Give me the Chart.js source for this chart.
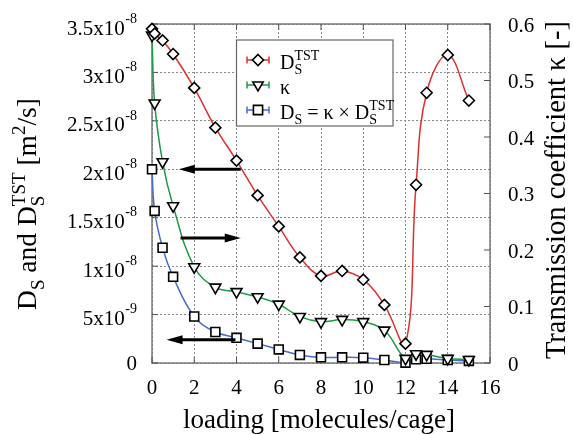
<!DOCTYPE html>
<html><head><meta charset="utf-8">
<script src="https://cdn.jsdelivr.net/npm/chart.js@4.4.0/dist/chart.umd.min.js"></script>
<style>html,body{margin:0;padding:0;background:#fff;}#wrap{width:573px;height:435px;position:relative;}</style>
</head><body><div id="wrap"><canvas id="c" width="573" height="435"></canvas></div>
<script>
// ---- data ----
const loading = [0, 0.125, 0.5, 1, 2, 3, 4, 5, 6, 7, 8, 9, 10, 11, 12, 12.5, 13, 14, 15];
const dsTST = [3.45e-8, 3.40e-8, 3.33e-8, 3.19e-8, 2.84e-8, 2.43e-8, 2.09e-8, 1.73e-8, 1.41e-8, 1.09e-8, 0.90e-8, 0.95e-8, 0.86e-8, 0.60e-8, 0.20e-8, 1.84e-8, 2.79e-8, 3.18e-8, 2.71e-8];
const kappa = [0.58, 0.46, 0.356, 0.278, 0.170, 0.134, 0.126, 0.117, 0.104, 0.082, 0.073, 0.077, 0.073, 0.058, 0.008, 0.016, 0.015, 0.008, 0.006];
const ds = [2.0e-8, 1.57e-8, 1.19e-8, 0.89e-8, 0.48e-8, 0.32e-8, 0.26e-8, 0.20e-8, 0.14e-8, 0.083e-8, 0.059e-8, 0.059e-8, 0.055e-8, 0.031e-8, 0.003e-8, 0.038e-8, 0.044e-8, 0.031e-8, 0.021e-8];
const xTicks = [0, 2, 4, 6, 8, 10, 12, 14, 16];
const yLeftTicks = [0, 5e-9, 1e-8, 1.5e-8, 2e-8, 2.5e-8, 3e-8, 3.5e-8];
const yLeftMant = ['0', '5x10', '1x10', '1.5x10', '2x10', '2.5x10', '3x10', '3.5x10'];
const yLeftExp = ['', '-9', '-8', '-8', '-8', '-8', '-8', '-8'];
const yRightTicks = [0, 0.1, 0.2, 0.3, 0.4, 0.5, 0.6];
const yRightLabels = ['0', '0.1', '0.2', '0.3', '0.4', '0.5', '0.6'];
// arrows: [xFrom, xTo, yLeftValue]
const arrowFrom = [4.2, 1.35, 3.95];
const arrowTo = [1.27, 4.2, 0.69];
const arrowY = [2.0e-8, 1.29e-8, 0.24e-8];

const RED = '#dd3131', GREEN = '#1f9a48', BLUE = '#4a6ccf';
const SERIF = '"Liberation Serif", "DejaVu Serif", serif';

function pts(ys) { return loading.map((x, i) => ({x: x, y: ys[i]})); }

function drawMarker(ctx, style, x, y, r) {
  ctx.save();
  ctx.beginPath();
  if (style === 'diamond') {
    ctx.moveTo(x, y - r); ctx.lineTo(x + r, y); ctx.lineTo(x, y + r); ctx.lineTo(x - r, y); ctx.closePath();
  } else if (style === 'tri') {
    const w = r * 0.866;
    ctx.moveTo(x - w, y - r / 2); ctx.lineTo(x + w, y - r / 2); ctx.lineTo(x, y + r); ctx.closePath();
  } else {
    const s = r * 0.707;
    ctx.rect(x - s, y - s, 2 * s, 2 * s);
  }
  ctx.fillStyle = '#fff'; ctx.fill();
  ctx.lineWidth = 1.6; ctx.strokeStyle = '#000'; ctx.stroke();
  ctx.restore();
}

// rich text: segs = [{t, k:'n'|'sub'|'sup'|'ss', sub, sup}]
function richWidth(ctx, segs, fs) {
  let w = 0; const ss = Math.round(fs * 0.68);
  for (const s of segs) {
    if (s.k === 'n') { ctx.font = fs + 'px ' + SERIF; w += ctx.measureText(s.t).width; }
    else if (s.k === 'ss') { ctx.font = ss + 'px ' + SERIF; w += Math.max(ctx.measureText(s.sub).width, ctx.measureText(s.sup).width); }
    else { ctx.font = ss + 'px ' + SERIF; w += ctx.measureText(s.t).width; }
  }
  return w;
}
function drawRich(ctx, segs, x, y, fs, align) {
  const ss = Math.round(fs * 0.68);
  const w = richWidth(ctx, segs, fs);
  let cx = align === 'right' ? x - w : align === 'center' ? x - w / 2 : x;
  ctx.textBaseline = 'alphabetic'; ctx.textAlign = 'left'; ctx.fillStyle = '#000';
  const base = y + fs * 0.33;
  for (const s of segs) {
    if (s.k === 'n') { ctx.font = fs + 'px ' + SERIF; ctx.fillText(s.t, cx, base); cx += ctx.measureText(s.t).width; }
    else if (s.k === 'sub') { ctx.font = ss + 'px ' + SERIF; ctx.fillText(s.t, cx, base + fs * 0.28); cx += ctx.measureText(s.t).width; }
    else if (s.k === 'sup') { ctx.font = ss + 'px ' + SERIF; ctx.fillText(s.t, cx, base - fs * 0.42); cx += ctx.measureText(s.t).width; }
    else {
      ctx.font = ss + 'px ' + SERIF;
      ctx.fillText(s.sub, cx, base + fs * 0.28);
      ctx.fillText(s.sup, cx, base - fs * 0.42);
      cx += Math.max(ctx.measureText(s.sub).width, ctx.measureText(s.sup).width);
    }
  }
}

const decor = {
  id: 'decor',
  beforeDatasetsDraw(chart) {
    const ctx = chart.ctx, a = chart.chartArea;
    const sx = chart.scales.x, sy = chart.scales.y, sy2 = chart.scales.y2;
    ctx.save();
    // frame
    ctx.strokeStyle = '#7a7a7a'; ctx.lineWidth = 1.5;
    ctx.strokeRect(a.left, a.top, a.right - a.left, a.bottom - a.top);
    // inward ticks
    ctx.strokeStyle = '#555'; ctx.lineWidth = 1;
    ctx.beginPath();
    xTicks.forEach(v => { const px = sx.getPixelForValue(v);
      ctx.moveTo(px, a.bottom); ctx.lineTo(px, a.bottom - 6);
      ctx.moveTo(px, a.top); ctx.lineTo(px, a.top + 6); });
    yLeftTicks.forEach(v => { const py = sy.getPixelForValue(v);
      ctx.moveTo(a.left, py); ctx.lineTo(a.left + 6, py); });
    yRightTicks.forEach(v => { const py = sy2.getPixelForValue(v);
      ctx.moveTo(a.right, py); ctx.lineTo(a.right - 6, py); });
    ctx.stroke();
    ctx.restore();
  },
  afterDatasetsDraw(chart) {
    const ctx = chart.ctx, a = chart.chartArea;
    const sx = chart.scales.x, sy = chart.scales.y, sy2 = chart.scales.y2;
    ctx.save();
    // arrows
    ctx.strokeStyle = '#000'; ctx.fillStyle = '#000'; ctx.lineWidth = 3;
    for (let i = 0; i < arrowFrom.length; i++) {
      const x0 = sx.getPixelForValue(arrowFrom[i]), x1 = sx.getPixelForValue(arrowTo[i]);
      const py = sy.getPixelForValue(arrowY[i]);
      const dir = Math.sign(x1 - x0);
      ctx.beginPath(); ctx.moveTo(x0, py); ctx.lineTo(x1 - dir * 12, py); ctx.stroke();
      ctx.beginPath(); ctx.moveTo(x1, py); ctx.lineTo(x1 - dir * 16, py - 4.5); ctx.lineTo(x1 - dir * 16, py + 4.5); ctx.closePath(); ctx.fill();
    }
    // tick labels
    ctx.fillStyle = '#000';
    ctx.font = '21px ' + SERIF; ctx.textAlign = 'center'; ctx.textBaseline = 'middle';
    xTicks.forEach(v => ctx.fillText(String(v), sx.getPixelForValue(v), a.bottom + 25));
    yLeftTicks.forEach((v, i) => {
      const py = sy.getPixelForValue(v) + 5;
      const rx = 137;
      ctx.textBaseline = 'middle';
      if (yLeftExp[i]) {
        ctx.font = '14px ' + SERIF; ctx.textAlign = 'right';
        const ew = ctx.measureText(yLeftExp[i]).width;
        ctx.fillText(yLeftExp[i], rx, py - 10);
        ctx.font = '21px ' + SERIF; ctx.fillText(yLeftMant[i], rx - ew - 0.5, py);
      } else {
        ctx.font = '21px ' + SERIF; ctx.textAlign = 'right'; ctx.fillText(yLeftMant[i], rx, py - 4);
      }
    });
    ctx.font = '21px ' + SERIF; ctx.textAlign = 'left'; ctx.textBaseline = 'middle';
    yRightTicks.forEach((v, i) => ctx.fillText(yRightLabels[i], 508, sy2.getPixelForValue(v) + 2));
    // axis titles
    ctx.font = '27px ' + SERIF; ctx.textAlign = 'center'; ctx.textBaseline = 'middle';
    ctx.fillText('loading [molecules/cage]', (a.left + a.right) / 2 - 2, 421);
    ctx.save(); ctx.translate(558, 190); ctx.rotate(-Math.PI / 2);
    ctx.font = '28.5px ' + SERIF;
    ctx.fillText('Transmission coefficient \u03BA [-]', 0, 0); ctx.restore();
    ctx.save(); ctx.translate(30, 204); ctx.rotate(-Math.PI / 2);
    drawRich(ctx, [{k:'n', t:'D'}, {k:'sub', t:'S'}, {k:'n', t:' and D'}, {k:'ss', sub:'S', sup:'TST'}, {k:'n', t:' [m'}, {k:'sup', t:'2'}, {k:'n', t:'/s]'}], 0, -3, 27.5, 'center');
    ctx.restore();
    // legend
    const lx = 236.5, ly = 40, lw = 156.5, lh = 86;
    ctx.fillStyle = '#fff'; ctx.fillRect(lx, ly, lw, lh);
    ctx.strokeStyle = '#666'; ctx.lineWidth = 1.2; ctx.strokeRect(lx, ly, lw, lh);
    const rows = [
      {c: RED, m: 'diamond', r: 5.5, y: 60, segs: [{k:'n', t:'D'}, {k:'ss', sub:'S', sup:'TST'}]},
      {c: GREEN, m: 'tri', r: 6, y: 85, segs: [{k:'n', t:'\u03BA'}]},
      {c: BLUE, m: 'sq', r: 6.5, y: 110, segs: [{k:'n', t:'D'}, {k:'sub', t:'S'}, {k:'n', t:' = \u03BA \u00D7 D'}, {k:'ss', sub:'S', sup:'TST'}]}
    ];
    rows.forEach(r => {
      ctx.strokeStyle = r.c; ctx.lineWidth = 1.5;
      ctx.beginPath(); ctx.moveTo(247, r.y); ctx.lineTo(269, r.y);
      ctx.moveTo(247, r.y - 3.5); ctx.lineTo(247, r.y + 3.5);
      ctx.moveTo(269, r.y - 3.5); ctx.lineTo(269, r.y + 3.5); ctx.stroke();
      drawMarker(ctx, r.m, 258, r.y, r.r);
      drawRich(ctx, r.segs, 280, r.y + 2, 20, 'left');
    });
    ctx.restore();
  }
};

const common = {showLine: true, tension: 0.4, borderWidth: 1.5, pointBackgroundColor: '#fff', pointBorderColor: '#000', pointBorderWidth: 1.6, pointHoverRadius: 6, clip: 8};

new Chart(document.getElementById('c'), {
  type: 'scatter',
  data: {
    datasets: [
      Object.assign({label: 'DS TST', data: pts(dsTST), yAxisID: 'y', borderColor: RED, pointStyle: 'rectRot', pointRadius: 5.5}, common),
      Object.assign({label: 'kappa', data: pts(kappa), yAxisID: 'y2', borderColor: GREEN, pointStyle: 'triangle', pointRotation: 180, pointRadius: 6.3}, common),
      Object.assign({label: 'DS', data: pts(ds), yAxisID: 'y', borderColor: BLUE, pointStyle: 'rect', pointRadius: 6.3}, common)
    ]
  },
  options: {
    responsive: false, animation: false, devicePixelRatio: 1,
    layout: {padding: {left: 152, right: 83, top: 24, bottom: 72}},
    plugins: {legend: {display: false}, tooltip: {enabled: false}},
    scales: {
      x: {type: 'linear', min: 0, max: 16, ticks: {display: false, stepSize: 2}, grid: {color: '#8a8a8a', lineWidth: 1, drawTicks: false}, border: {display: false, dash: [2, 2]}},
      y: {type: 'linear', position: 'left', min: 0, max: 3.5e-8, ticks: {display: false, stepSize: 5e-9}, grid: {color: '#8a8a8a', lineWidth: 1, drawTicks: false}, border: {display: false, dash: [2, 2]}},
      y2: {type: 'linear', position: 'right', min: 0, max: 0.6, ticks: {display: false, stepSize: 0.1}, grid: {display: false, drawTicks: false}, border: {display: false}}
    }
  },
  plugins: [decor]
});
</script></body></html>
